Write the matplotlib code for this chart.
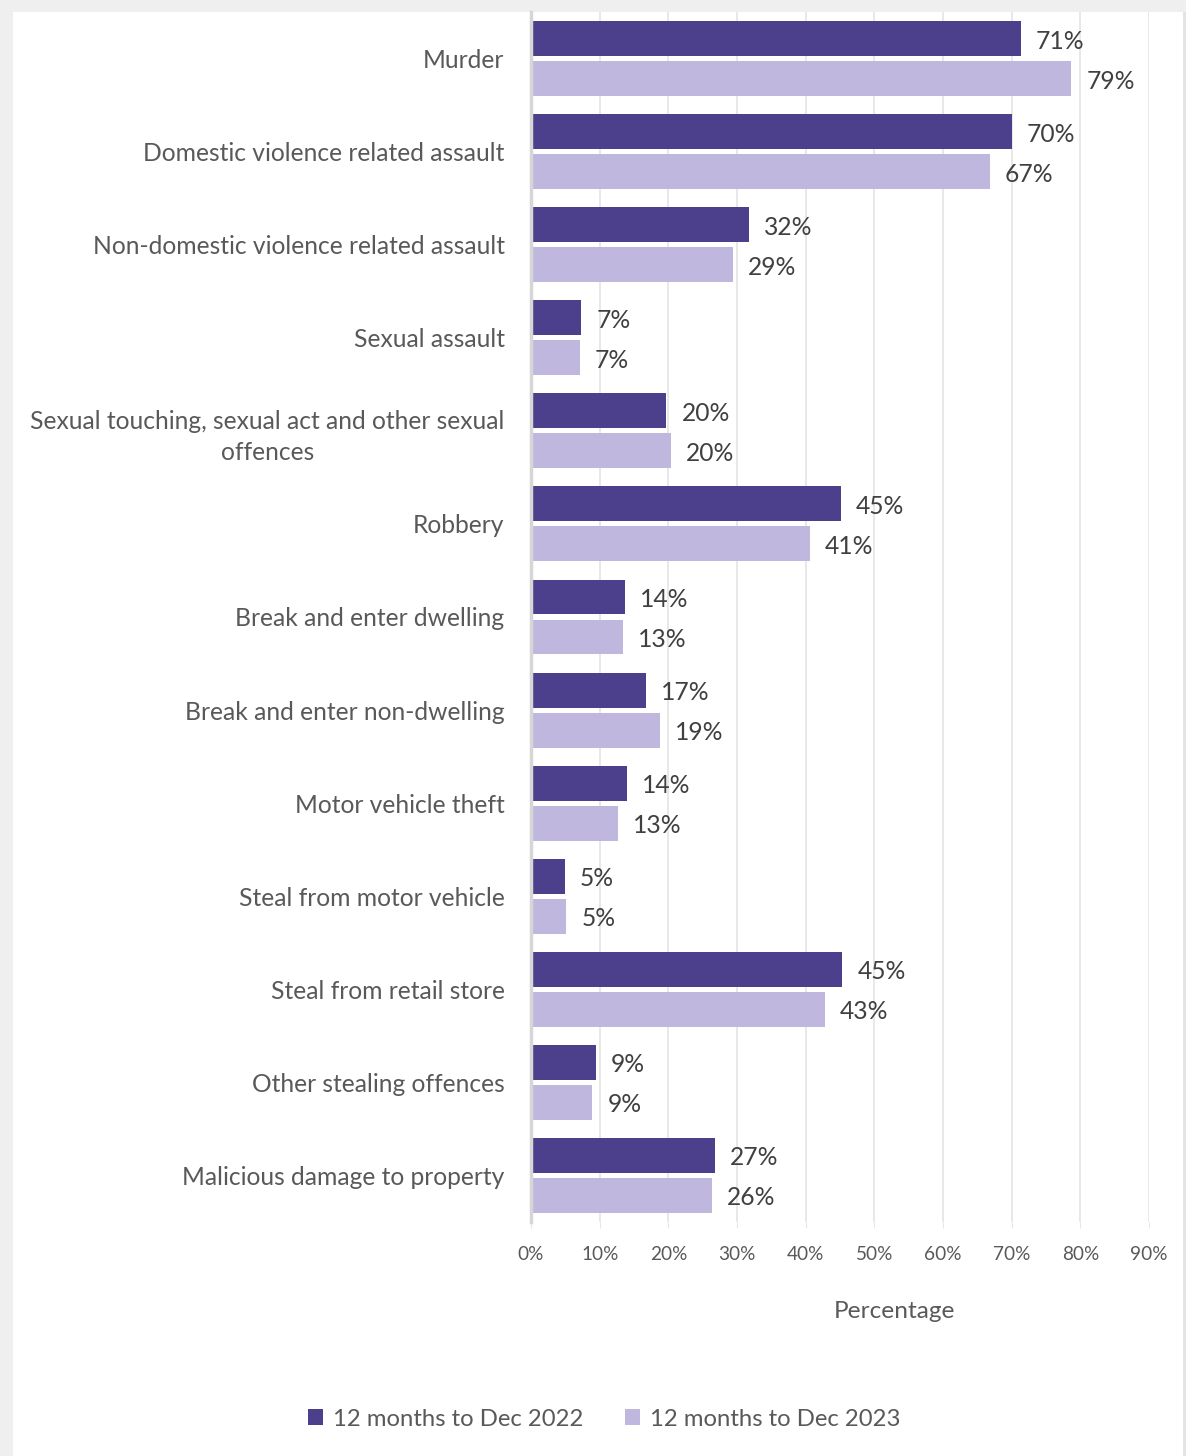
import matplotlib

matplotlib.use("Agg")
import matplotlib.pyplot as plt
from matplotlib.patches import Rectangle, Patch
import numpy as np

categories = [
    "Murder",
    "Domestic violence related assault",
    "Non-domestic violence related assault",
    "Sexual assault",
    "Sexual touching, sexual act and other sexual\noffences",
    "Robbery",
    "Break and enter dwelling",
    "Break and enter non-dwelling",
    "Motor vehicle theft",
    "Steal from motor vehicle",
    "Steal from retail store",
    "Other stealing offences",
    "Malicious damage to property",
]
dec_2022 = [71.3, 70.0, 31.7, 7.3, 19.7, 45.1, 13.7, 16.7, 14.0, 4.9, 45.3, 9.4, 26.8]
dec_2023 = [78.7, 66.8, 29.4, 7.1, 20.4, 40.6, 13.4, 18.8, 12.6, 5.1, 42.8, 8.9, 26.3]
series_names = ["12 months to Dec 2022", "12 months to Dec 2023"]
xticks = [0, 10, 20, 30, 40, 50, 60, 70, 80, 90]

DARK = "#4c3f8b"
LIGHT = "#bfb7dd"
TXT = "#595959"
VAL = "#404040"
GRID = "#e6e6e6"

plt.rcParams["font.family"] = ["Lato", "DejaVu Sans"]

W, H = 1186, 1456
fig = plt.figure(figsize=(W / 100, H / 100), dpi=100)
fig.patch.set_facecolor("#efefef")
fig.add_artist(Rectangle((13 / W, 0), (1183 - 13) / W, 1 - 12 / H,
                         transform=fig.transFigure, facecolor="white",
                         edgecolor="none", zorder=0))
fig.add_artist(Rectangle((1183 / W, 0), 3 / W, 1 - 12 / H,
                         transform=fig.transFigure, facecolor="#e4e4e4",
                         edgecolor="none", zorder=0))

ax_left, ax_right = 531 / W, 1149 / W
ax_top, ax_bot = 1 - 12 / H, 1 - 1222 / H
ax = fig.add_axes([ax_left, ax_bot, ax_right - ax_left, ax_top - ax_bot])
ax.set_facecolor("none")

y = np.arange(len(categories))
bh = 0.375
off = 0.215
b1 = ax.barh(y - off, dec_2022, height=bh, color=DARK, zorder=3)
b2 = ax.barh(y + off, dec_2023, height=bh, color=LIGHT, zorder=3)

for bars, vals in ((b1, dec_2022), (b2, dec_2023)):
    for rect, v in zip(bars, vals):
        ax.annotate(f"{v:.0f}%", (v, rect.get_y() + rect.get_height() / 2),
                    xytext=(11, -1.8), textcoords="offset points",
                    ha="left", va="center", fontsize=17.7, color=VAL)

ax.set_xlim(0, 90)
ax.set_ylim(len(categories) - 0.5, -0.5)
ax.set_xticks(xticks)
ax.set_xticklabels([f"{t}%" for t in xticks], fontsize=13.7, color=TXT)
ax.set_yticks(y)
ax.set_yticklabels(categories, fontsize=17.7, color=TXT,
                   multialignment="center", linespacing=1.45)
ax.tick_params(axis="y", length=0, pad=19)
ax.tick_params(axis="x", length=4, color=GRID, pad=13)
ax.xaxis.grid(True, color=GRID, linewidth=1.3, zorder=0)
ax.set_axisbelow(True)
for s in ("top", "right", "bottom"):
    ax.spines[s].set_visible(False)
ax.spines["left"].set_color("#d6d6d6")
ax.spines["left"].set_linewidth(2.5)
ax.spines["left"].set_zorder(4)

fig.text(895 / W, 1 - 1311 / H, "Percentage", ha="center", va="center",
         fontsize=17.6, color=TXT)

handles = [Patch(facecolor=DARK, label=series_names[0]),
           Patch(facecolor=LIGHT, label=series_names[1])]
fig.legend(handles=handles, loc="center", bbox_to_anchor=(604 / W, 1 - 1419 / H),
           ncol=2, frameon=False, fontsize=17.2, labelcolor=TXT,
           handlelength=0.65, handleheight=0.65, handletextpad=0.4,
           columnspacing=1.75)

fig.savefig("out.png", dpi=100, facecolor=fig.get_facecolor())
